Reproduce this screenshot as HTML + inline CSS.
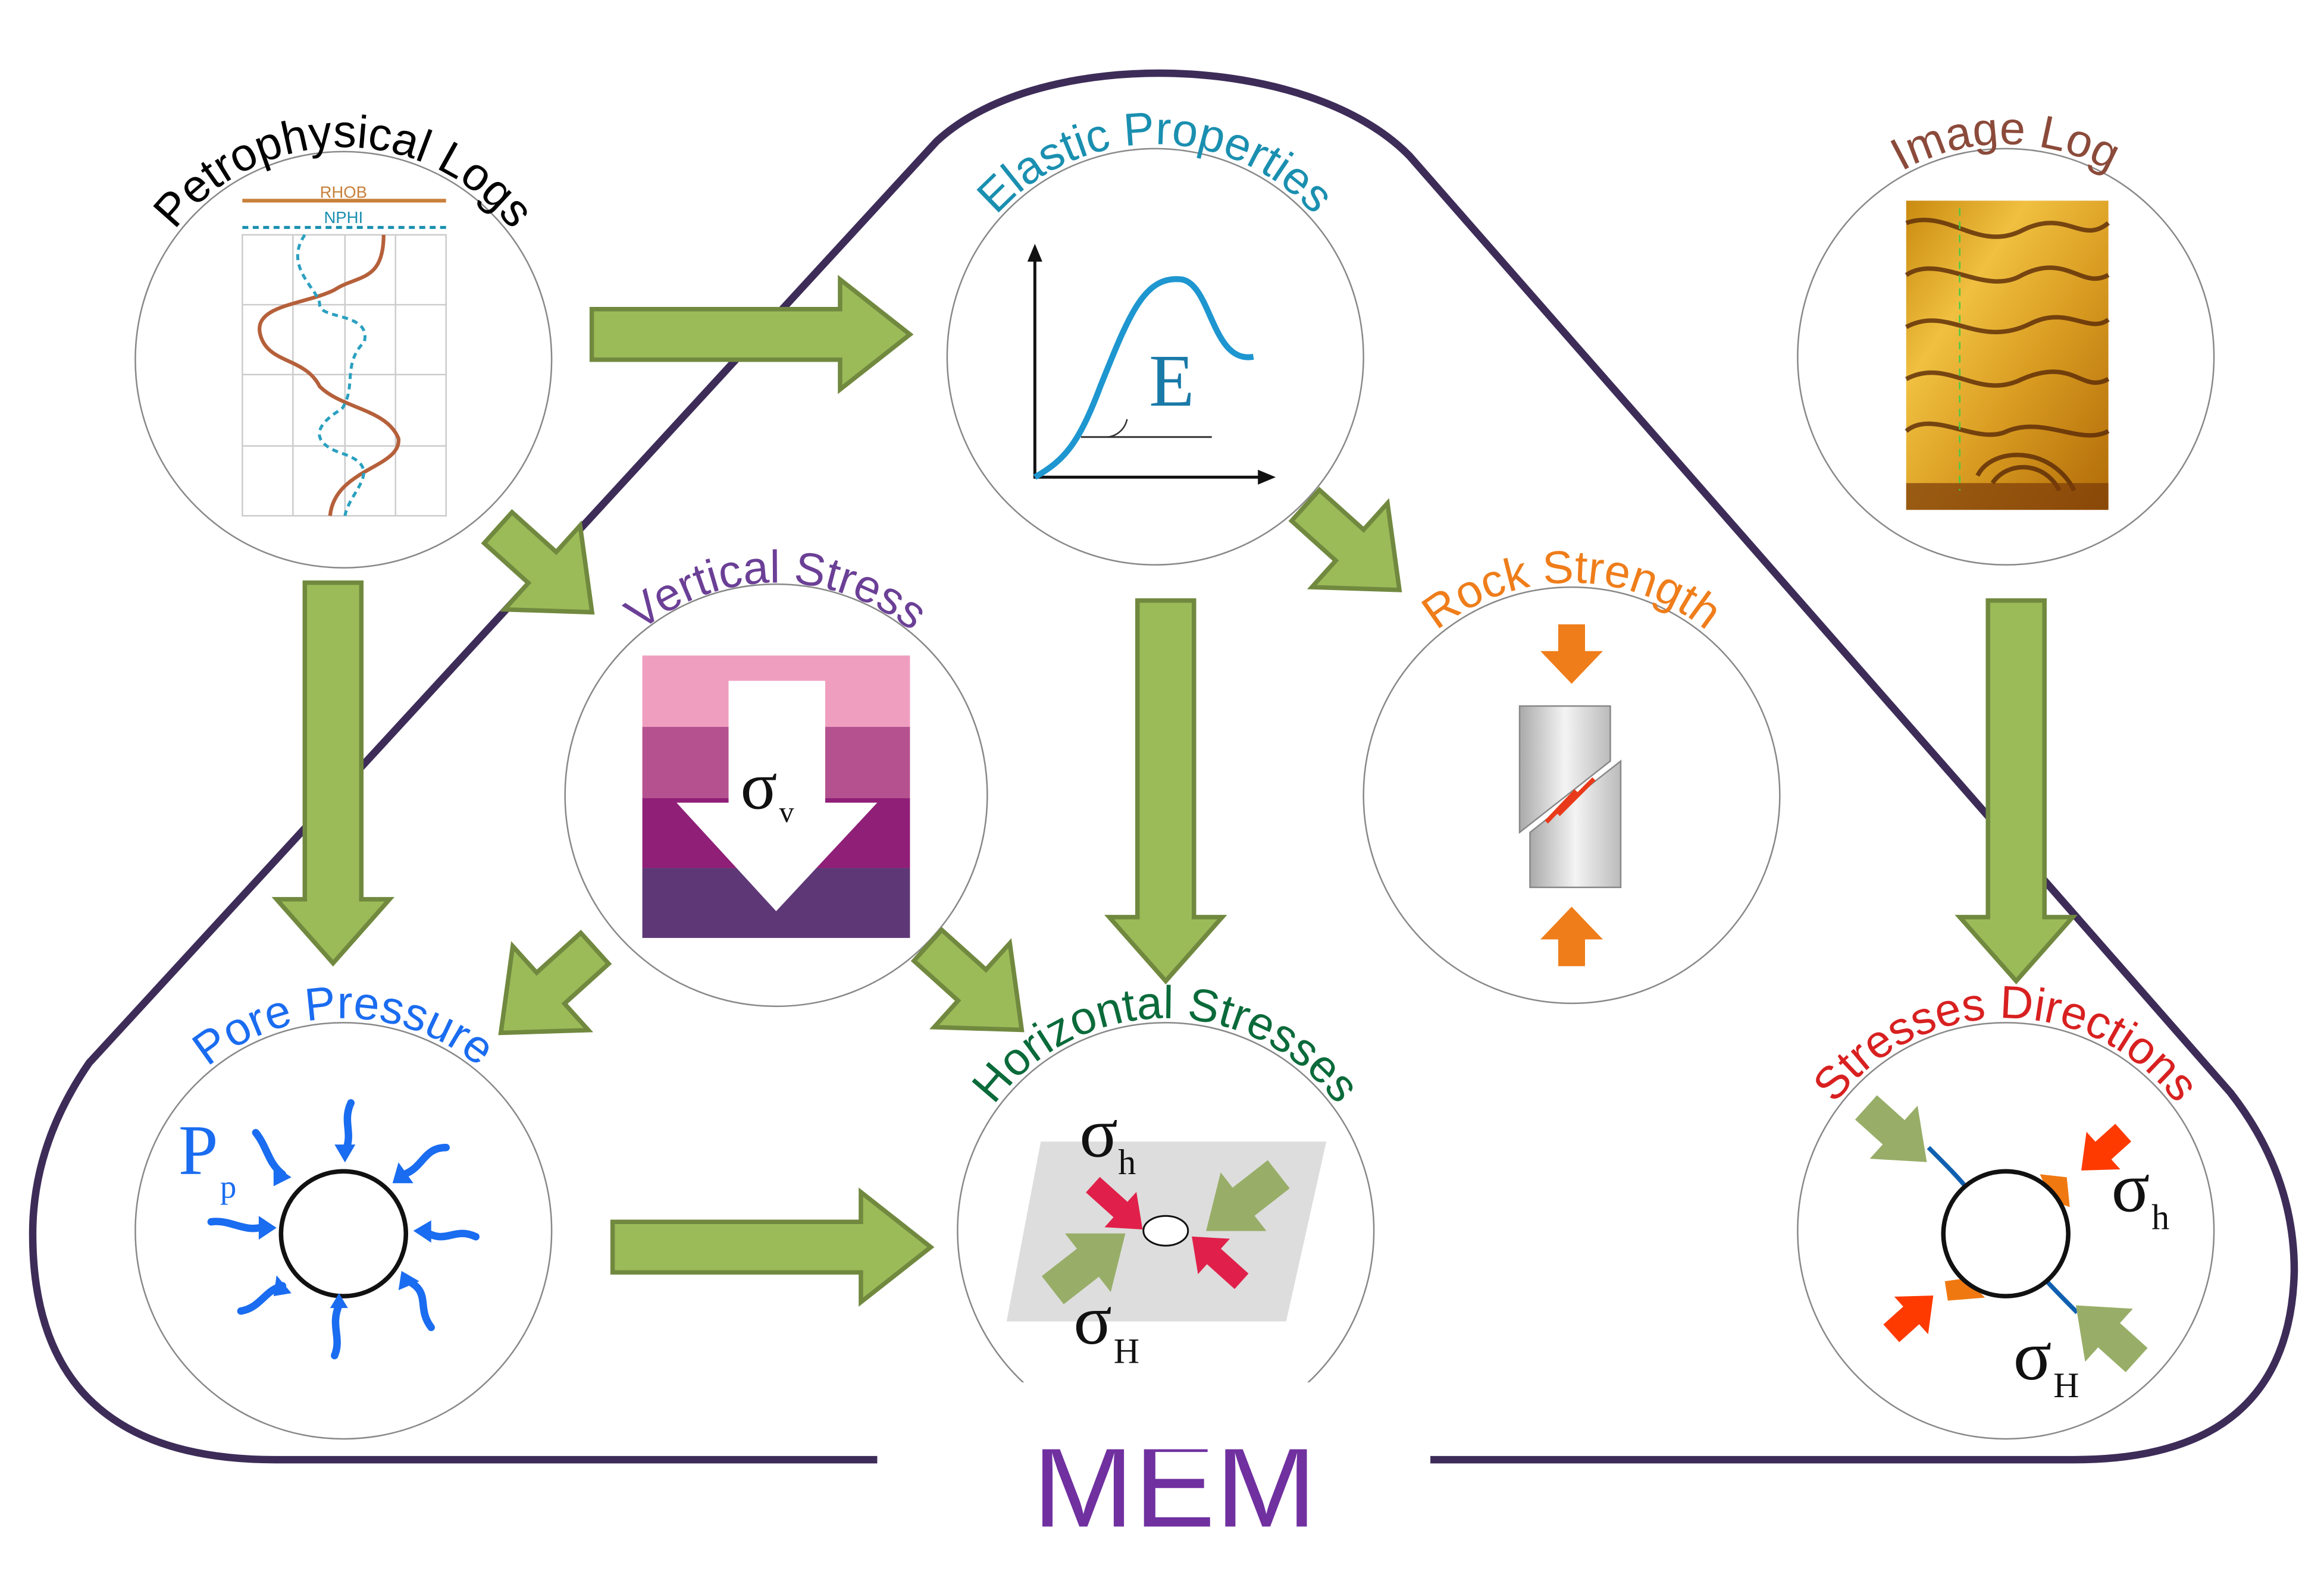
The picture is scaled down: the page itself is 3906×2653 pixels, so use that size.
<!DOCTYPE html>
<html><head><meta charset="utf-8"><style>
html,body{margin:0;padding:0;background:#fff;}
svg{display:block;}
text{font-family:"Liberation Sans",sans-serif;}
.serif{font-family:"Liberation Serif",serif;}
</style></head><body>
<svg width="3906" height="2653" viewBox="0 0 1563 1061.6" xmlns="http://www.w3.org/2000/svg">
<defs>
<path id="a1" d="M88,242 A143,143 0 0 1 374,242"/>
<path id="a2" d="M634,240 A143,143 0 0 1 920,240"/>
<path id="a3" d="M1206,240 A143,143 0 0 1 1492,240"/>
<path id="a4" d="M379,535 A143,143 0 0 1 665,535"/>
<path id="a5" d="M914,535 A143,143 0 0 1 1200,535"/>
<path id="a6" d="M88,828 A143,143 0 0 1 374,828"/>
<path id="a7" d="M641,828 A143,143 0 0 1 927,828"/>
<path id="a8" d="M1206,828 A143,143 0 0 1 1492,828"/>
<linearGradient id="gold" x1="0" y1="0" x2="1" y2="1">
<stop offset="0" stop-color="#c98a10"/><stop offset="0.3" stop-color="#f0c040"/><stop offset="0.6" stop-color="#d89a20"/><stop offset="1" stop-color="#b06a08"/></linearGradient>
<linearGradient id="cyl" x1="0" x2="1"><stop offset="0" stop-color="#aaa"/><stop offset="0.5" stop-color="#f4f4f4"/><stop offset="1" stop-color="#bbb"/></linearGradient>
</defs>

<!-- MEM outline -->
<path d="M590,982 L185,982 Q22,982 22,830 Q22,770 60,715 L630,95 C700,30 880,35 948,105 L1500,735 Q1543,790 1543,855 Q1540,982 1395,982 L962,982" fill="none" stroke="#3d2c58" stroke-width="5"/>
<text x="790" y="1027" font-size="82" fill="#7030a0" text-anchor="middle">MEM</text>

<!-- circles -->
<g fill="#fff" stroke="#888" stroke-width="1">
<circle cx="231" cy="242" r="140"/>
<circle cx="777" cy="240" r="140"/>
<circle cx="1349" cy="240" r="140"/>
<circle cx="522" cy="535" r="142"/>
<circle cx="1057" cy="535" r="140"/>
<circle cx="231" cy="828" r="140"/>
<circle cx="784" cy="828" r="140"/>
<circle cx="1349" cy="828" r="140"/>
</g>
<rect x="630" y="930" width="310" height="45" fill="#fff"/>

<!-- labels -->
<g font-size="31" text-anchor="middle">
<text fill="#000"><textPath href="#a1" startOffset="50%">Petrophysical Logs</textPath></text>
<text fill="#1a8fb0"><textPath href="#a2" startOffset="50%">Elastic Properties</textPath></text>
<text fill="#8b4a3a"><textPath href="#a3" startOffset="50%">Image Log</textPath></text>
<text fill="#6b3f96"><textPath href="#a4" startOffset="50%">Vertical Stress</textPath></text>
<text fill="#ef7d1a"><textPath href="#a5" startOffset="50%">Rock Strength</textPath></text>
<text fill="#1a6cf0"><textPath href="#a6" startOffset="50%">Pore Pressure</textPath></text>
<text fill="#0a6a3a"><textPath href="#a7" startOffset="50%">Horizontal Stresses</textPath></text>
<text fill="#d82020"><textPath href="#a8" startOffset="50%">Stresses Directions</textPath></text>
</g>

<!-- Petro content -->
<g stroke="#ccc" stroke-width="1" fill="none">
<rect x="163" y="158" width="137" height="189"/>
<line x1="197" y1="158" x2="197" y2="347"/><line x1="232" y1="158" x2="232" y2="347"/><line x1="266" y1="158" x2="266" y2="347"/>
<line x1="163" y1="205" x2="300" y2="205"/><line x1="163" y1="252" x2="300" y2="252"/><line x1="163" y1="300" x2="300" y2="300"/>
</g>
<line x1="163" y1="135" x2="300" y2="135" stroke="#c8803a" stroke-width="2.5"/>
<text x="231" y="133" font-size="11" fill="#c8803a" text-anchor="middle">RHOB</text>
<line x1="163" y1="153" x2="300" y2="153" stroke="#1a8fb0" stroke-width="2" stroke-dasharray="4,3"/>
<text x="231" y="150" font-size="11" fill="#1a8fb0" text-anchor="middle">NPHI</text>
<path d="M258,158 C258,190 240,185 225,195 C205,205 170,205 175,225 C180,245 205,240 215,260 C230,275 260,275 268,295 C270,315 225,315 222,347" fill="none" stroke="#b5603a" stroke-width="2.5"/>
<path d="M205,158 C190,180 215,195 215,205 C215,215 250,210 245,230 C230,245 240,260 230,275 C205,290 215,300 230,305 C260,315 235,330 232,347" fill="none" stroke="#2aa0c0" stroke-width="2" stroke-dasharray="4,3"/>

<!-- Elastic content -->
<line x1="696" y1="322" x2="696" y2="172" stroke="#111" stroke-width="2"/>
<polygon points="691,176 696,164 701,176" fill="#111"/>
<line x1="696" y1="321" x2="850" y2="321" stroke="#111" stroke-width="2"/>
<polygon points="846,316 858,321 846,326" fill="#111"/>
<line x1="727" y1="294" x2="815" y2="294" stroke="#333" stroke-width="1.2"/>
<path d="M745,294 A15,15 0 0 0 758,282" fill="none" stroke="#333" stroke-width="1"/>
<path d="M696,321 C715,310 725,300 740,260 C760,210 770,185 795,188 C815,192 815,245 843,240" fill="none" stroke="#1e96d0" stroke-width="4"/>
<text x="788" y="273" class="serif" font-size="50" fill="#1a7aa8" text-anchor="middle">E</text>

<!-- Image log -->
<rect x="1282" y="135" width="136" height="208" fill="url(#gold)"/>
<g fill="none" stroke="#5a2a08" stroke-width="3" opacity="0.8">
<path d="M1282,150 C1310,140 1330,170 1360,155 C1390,140 1400,165 1418,150"/>
<path d="M1282,185 C1305,170 1335,200 1360,185 C1390,170 1400,195 1418,185"/>
<path d="M1282,220 C1310,205 1330,235 1365,218 C1390,205 1405,225 1418,215"/>
<path d="M1282,255 C1310,240 1330,270 1360,255 C1395,240 1400,265 1418,255"/>
<path d="M1282,290 C1300,275 1330,300 1350,290 C1375,280 1400,300 1418,290"/>
<path d="M1330,320 C1340,300 1380,300 1395,330"/>
<path d="M1340,325 C1350,310 1375,310 1385,330"/>
</g>
<rect x="1282" y="325" width="136" height="18" fill="#7a3a08" opacity="0.7"/>
<line x1="1318" y1="140" x2="1318" y2="330" stroke="#4c4" stroke-width="1" stroke-dasharray="5,4"/>

<!-- Vertical stress -->
<rect x="432" y="441" width="180" height="48" fill="#f09ec0"/>
<rect x="432" y="489" width="180" height="48" fill="#b5518f"/>
<rect x="432" y="537" width="180" height="47" fill="#8f1f77"/>
<rect x="432" y="584" width="180" height="47" fill="#5e3876"/>
<polygon points="490,458 555,458 555,540 590,540 522,613 455,540 490,540" fill="#fff"/>
<text x="498" y="544" class="serif" font-size="46" fill="#111">σ</text>
<text x="524" y="553" class="serif" font-size="20" fill="#111">v</text>

<!-- Rock strength -->
<polygon points="1048,420 1066,420 1066,438 1078,438 1057,460 1036,438 1048,438" fill="#ef7d1a"/>
<polygon points="1048,650 1066,650 1066,632 1078,632 1057,610 1036,632 1048,632" fill="#ef7d1a"/>
<polygon points="1022,475 1083,475 1083,512 1022,560" fill="url(#cyl)" stroke="#888" stroke-width="1"/>
<polygon points="1029,560 1090,512 1090,597 1029,597" fill="url(#cyl)" stroke="#888" stroke-width="1"/>
<line x1="1040" y1="553" x2="1060" y2="532" stroke="#e83a1a" stroke-width="3"/>
<line x1="1048" y1="548" x2="1072" y2="524" stroke="#e83a1a" stroke-width="3"/>

<!-- Pore pressure -->
<circle cx="231" cy="830" r="42" fill="#fff" stroke="#111" stroke-width="3"/>
<text x="120" y="790" class="serif" font-size="48" fill="#1a6cf0">P</text>
<text x="148" y="806" class="serif" font-size="22" fill="#1a6cf0">p</text>
<g fill="none" stroke="#1a6cf0" stroke-width="5" stroke-linecap="round">
<path d="M236,742 C230,755 238,762 232,775"/>
<path d="M300,772 C285,772 285,785 272,790"/>
<path d="M320,832 C305,825 300,838 285,828"/>
<path d="M290,893 C280,880 290,870 275,862"/>
<path d="M225,912 C230,900 222,892 228,878"/>
<path d="M162,882 C175,880 178,868 190,865"/>
<path d="M142,822 C155,820 165,830 178,825"/>
<path d="M172,762 C180,772 180,782 190,790"/>
</g>
<g fill="#1a6cf0">
<polygon points="225,770 239,770 232,782"/>
<polygon points="268,782 278,796 264,796"/>
<polygon points="290,821 290,836 278,828"/>
<polygon points="270,855 282,862 268,868"/>
<polygon points="222,880 234,880 228,870"/>
<polygon points="186,858 196,870 184,872"/>
<polygon points="174,818 186,826 174,834"/>
<polygon points="184,784 196,792 184,798"/>
</g>

<!-- Horizontal stresses -->
<polygon points="700,768 892,768 865,889 677,889" fill="#ddd"/>
<ellipse cx="784" cy="828" rx="15" ry="10" fill="#fff" stroke="#111" stroke-width="1.2"/>
<text x="726" y="778" class="serif" font-size="48" fill="#111">σ</text>
<text x="752" y="790" class="serif" font-size="24" fill="#111">h</text>
<text x="722" y="904" class="serif" font-size="48" fill="#111">σ</text>
<text x="749" y="917" class="serif" font-size="24" fill="#111">H</text>
<polygon points="0,-7 25,-7 25,-16 45,0 25,16 25,7 0,7" fill="#e0204a" transform="translate(735,797) rotate(42)"/>
<polygon points="0,-7 25,-7 25,-16 45,0 25,16 25,7 0,7" fill="#e0204a" transform="translate(835,862) rotate(222)"/>
<polygon points="0,-12 30,-12 30,-25 62,0 30,25 30,12 0,12" fill="#98ae68" transform="translate(860,790) rotate(142)"/>
<polygon points="0,-12 30,-12 30,-25 62,0 30,25 30,12 0,12" fill="#98ae68" transform="translate(708,868) rotate(-38)"/>

<!-- Stresses directions -->
<path d="M1308,862 L1322,860 L1335,873 L1310,875 Z" fill="#f07810"/>
<path d="M1372,790 L1390,792 L1392,812 L1380,808 Z" fill="#f07810"/>
<path d="M1297,772 C1310,785 1318,793 1325,802" fill="none" stroke="#1060b0" stroke-width="3"/>
<path d="M1373,858 C1380,866 1390,876 1397,883" fill="none" stroke="#1060b0" stroke-width="3"/>
<circle cx="1349" cy="830" r="42" fill="#fff" stroke="#111" stroke-width="3"/>
<polygon points="0,-11 25,-11 25,-24 55,0 25,24 25,11 0,11" fill="#98ae68" transform="translate(1255,745) rotate(42)"/>
<polygon points="0,-11 25,-11 25,-24 55,0 25,24 25,11 0,11" fill="#98ae68" transform="translate(1437,915) rotate(222)"/>
<polygon points="0,-8 18,-8 18,-17 38,0 18,17 18,8 0,8" fill="#ff3a00" transform="translate(1428,762) rotate(138)"/>
<polygon points="0,-8 18,-8 18,-17 38,0 18,17 18,8 0,8" fill="#ff3a00" transform="translate(1272,897) rotate(-42)"/>
<text x="1420" y="815" class="serif" font-size="48" fill="#111">σ</text>
<text x="1447" y="827" class="serif" font-size="24" fill="#111">h</text>
<text x="1354" y="928" class="serif" font-size="48" fill="#111">σ</text>
<text x="1381" y="940" class="serif" font-size="24" fill="#111">H</text>

<!-- green arrows -->
<g fill="#9bbb59" stroke="#71893f" stroke-width="3" stroke-linejoin="miter">
<polygon points="0,-17 167,-17 167,-37 214,0 167,37 167,17 0,17" transform="translate(398,225)"/>
<polygon points="0,-17 167,-17 167,-37 214,0 167,37 167,17 0,17" transform="translate(412,839)"/>
<polygon points="0,-19 213,-19 213,-38 256,0 213,38 213,19 0,19" transform="translate(224,392) rotate(90)"/>
<polygon points="0,-19 213,-19 213,-38 256,0 213,38 213,19 0,19" transform="translate(784,404) rotate(90)"/>
<polygon points="0,-19 213,-19 213,-38 256,0 213,38 213,19 0,19" transform="translate(1356,404) rotate(90)"/>
<polygon points="0,-14 40,-14 40,-38 85,0 40,38 40,14 0,14" transform="translate(335,355) rotate(42)"/>
<polygon points="0,-14 40,-14 40,-38 85,0 40,38 40,14 0,14" transform="translate(878,340) rotate(42)"/>
<polygon points="0,-14 40,-14 40,-38 85,0 40,38 40,14 0,14" transform="translate(400,638) rotate(138)"/>
<polygon points="0,-14 40,-14 40,-38 85,0 40,38 40,14 0,14" transform="translate(624,636) rotate(42)"/>
</g>
</svg>
</body></html>
